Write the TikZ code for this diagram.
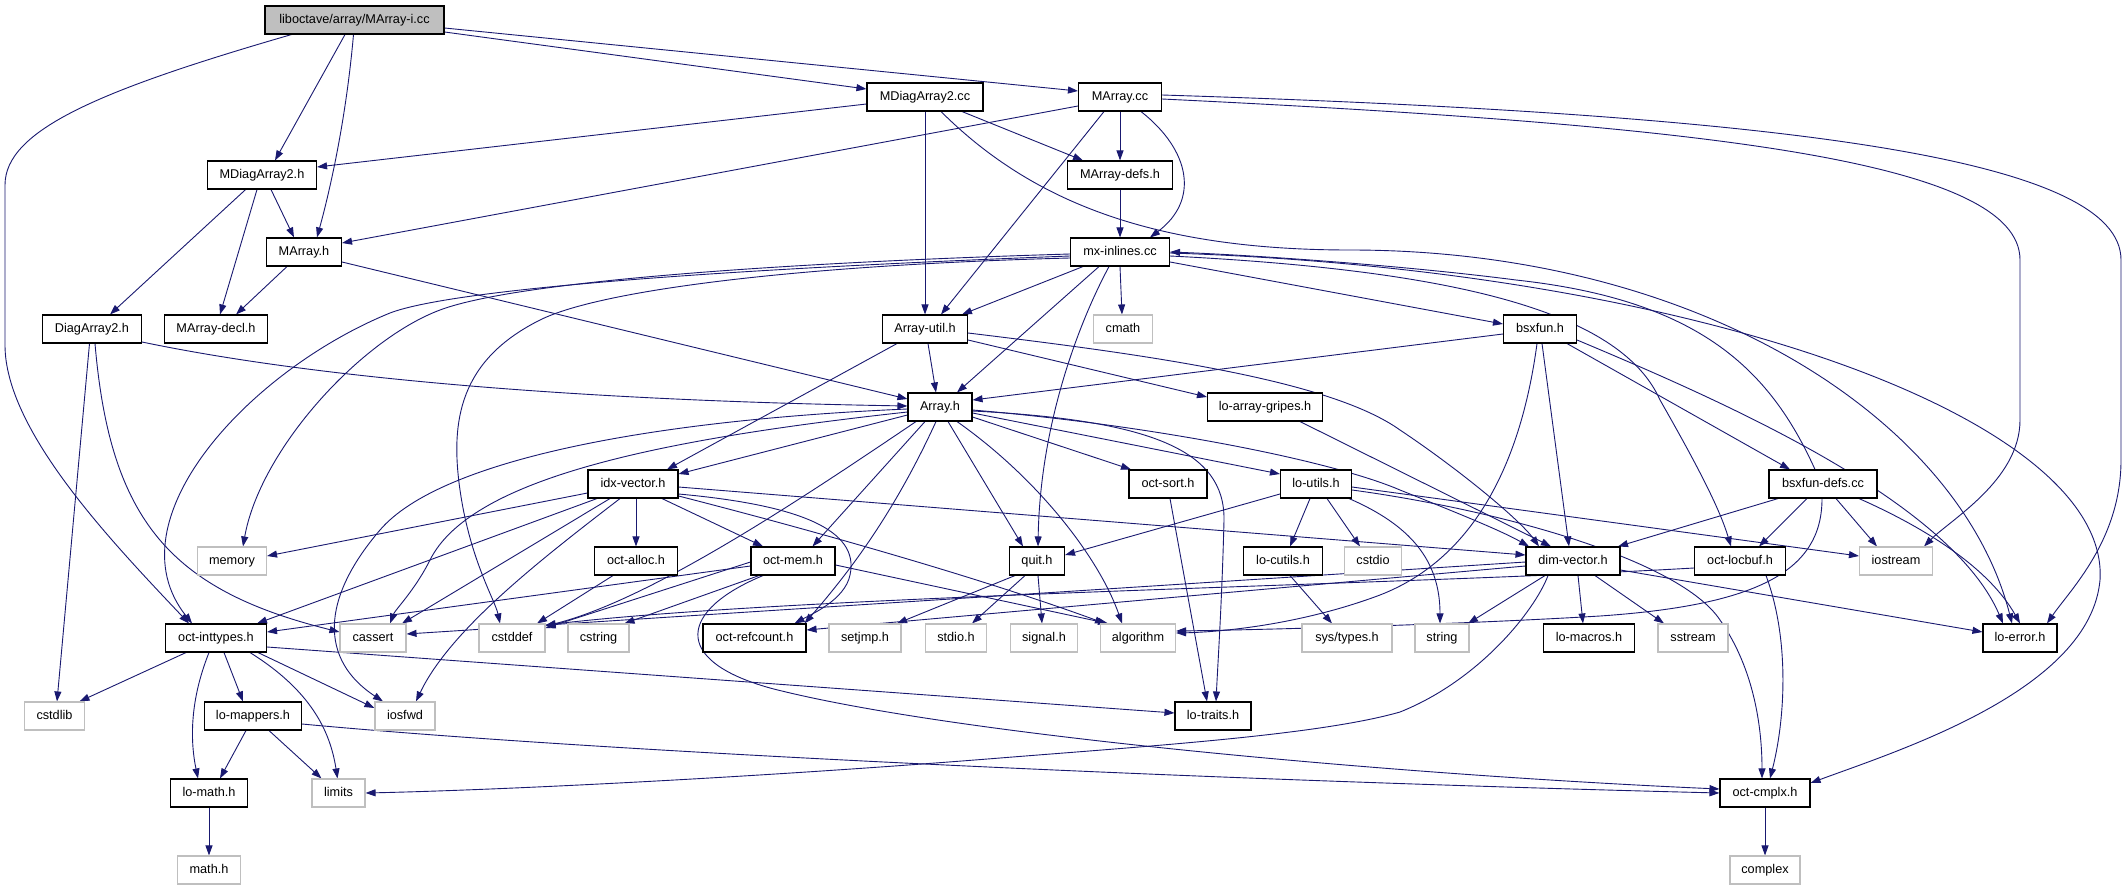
\documentclass[tikz,border=0pt]{standalone}
\usepackage{fontspec}
\setmainfont{Liberation Sans}
\usetikzlibrary{arrows.meta}
\definecolor{edgeblue}{HTML}{191970}
\definecolor{sysgray}{HTML}{BFBFBF}
\pgfdeclarelayer{bg}
\pgfsetlayers{bg,main}
\begin{document}
\begin{tikzpicture}[x=1pt,y=-1pt,
  hdr/.style={draw=black, line width=1.1pt, fill=white, inner sep=0pt, minimum height=28pt,
    text height=9pt, text depth=2.5pt, font=\fontsize{12.7}{14}\selectfont, text=black},
  sys/.style={hdr, draw=sysgray},
  rootnode/.style={hdr, fill=sysgray},
  e/.style={draw=edgeblue, line width=0.9pt, -{Triangle[length=10pt,width=7pt]}}]
\useasboundingbox (0,0) rectangle (2127,891);
% nodes
\node[rootnode, minimum width=179pt] (root) at (354.5,20) {liboctave/array/MArray-i.cc};
\node[hdr, minimum width=109pt] (md2h) at (262,175) {MDiagArray2.h};
\node[hdr, minimum width=75pt] (mah) at (304,252) {MArray.h};
\node[hdr, minimum width=116pt] (md2cc) at (925,97) {MDiagArray2.cc};
\node[hdr, minimum width=83pt] (macc) at (1120,97) {MArray.cc};
\node[hdr, minimum width=105pt] (madefs) at (1120,175) {MArray-defs.h};
\node[hdr, minimum width=99pt] (mxin) at (1120,252) {mx-inlines.cc};
\node[hdr, minimum width=99pt] (da2h) at (92,329) {DiagArray2.h};
\node[hdr, minimum width=103pt] (madecl) at (216,329) {MArray-decl.h};
\node[hdr, minimum width=85pt] (autil) at (925,329) {Array-util.h};
\node[sys, minimum width=59pt] (cmath) at (1123,329) {cmath};
\node[hdr, minimum width=64pt] (arrh) at (940,407) {Array.h};
\node[hdr, minimum width=115pt] (gripes) at (1265,407) {lo-array-gripes.h};
\node[hdr, minimum width=78pt] (octsort) at (1168,484) {oct-sort.h};
\node[hdr, minimum width=71pt] (loutils) at (1316,484) {lo-utils.h};
\node[hdr, minimum width=84pt] (octmem) at (793,561) {oct-mem.h};
\node[hdr, minimum width=55pt] (quit) at (1037,561) {quit.h};
\node[hdr, minimum width=79pt] (locutils) at (1283,561) {lo-cutils.h};
\node[sys, minimum width=57pt] (cstdio) at (1373,561) {cstdio};
\node[hdr, minimum width=73pt] (bsx) at (1540,329) {bsxfun.h};
\node[hdr, minimum width=108pt] (bsxdefs) at (1823,484) {bsxfun-defs.cc};
\node[hdr, minimum width=94pt] (dimv) at (1573,561) {dim-vector.h};
\node[hdr, minimum width=91pt] (locbuf) at (1740,561) {oct-locbuf.h};
\node[sys, minimum width=73pt] (iostream) at (1896,561) {iostream};
\node[hdr, minimum width=90pt] (idxv) at (633,484) {idx-vector.h};
\node[sys, minimum width=69pt] (memory) at (232,561) {memory};
\node[hdr, minimum width=83pt] (octalloc) at (636,561) {oct-alloc.h};
\node[hdr, minimum width=101pt] (inttypes) at (216,638) {oct-inttypes.h};
\node[sys, minimum width=66pt] (cassert) at (373,638) {cassert};
\node[sys, minimum width=66pt] (cstddef) at (512,638) {cstddef};
\node[sys, minimum width=61pt] (cstring) at (598.5,638) {cstring};
\node[hdr, minimum width=103pt] (refcount) at (754.5,638) {oct-refcount.h};
\node[sys, minimum width=72pt] (setjmp) at (865,638) {setjmp.h};
\node[sys, minimum width=61pt] (stdioh) at (956,638) {stdio.h};
\node[sys, minimum width=67pt] (signalh) at (1044,638) {signal.h};
\node[sys, minimum width=75pt] (algorithm) at (1138,638) {algorithm};
\node[sys, minimum width=90pt] (systypes) at (1347,638) {sys/types.h};
\node[sys, minimum width=54pt] (stringh) at (1442,638) {string};
\node[hdr, minimum width=91pt] (lomacros) at (1589,638) {lo-macros.h};
\node[sys, minimum width=70pt] (sstream) at (1693,638) {sstream};
\node[hdr, minimum width=74pt] (loerror) at (2020,638) {lo-error.h};
\node[sys, minimum width=60pt] (cstdlib) at (54.5,716) {cstdlib};
\node[hdr, minimum width=97pt] (lomappers) at (253,716) {lo-mappers.h};
\node[sys, minimum width=60pt] (iosfwd) at (405,716) {iosfwd};
\node[hdr, minimum width=76pt] (lotraits) at (1213,716) {lo-traits.h};
\node[hdr, minimum width=77pt] (lomath) at (209,793) {lo-math.h};
\node[sys, minimum width=53pt] (limits) at (338.5,793) {limits};
\node[hdr, minimum width=90pt] (cmplx) at (1765,793) {oct-cmplx.h};
\node[sys, minimum width=63pt] (mathh) at (209,870) {math.h};
\node[sys, minimum width=70pt] (complex) at (1765,870) {complex};
\begin{pgfonlayer}{bg}
\fill[white] (0,0) rectangle (2127,891);
% root
\draw[e] ([xshift=-9.5pt]root.south) -- ([xshift=13pt]md2h.north);
\draw[e] ([xshift=-1pt]root.south) .. controls (346,120) and (330,190) .. ([xshift=13pt]mah.north);
\draw[e] ([yshift=-12pt]root.east) -- ([yshift=8pt]md2cc.west);
\draw[e] ([yshift=-8pt]root.east) -- ([yshift=6pt]macc.west);
\draw[e] ([xshift=-63pt]root.south) .. controls (100,90) and (5,130) .. (5,185) -- (5,345) .. controls (5,430) and (110,540) .. ([xshift=-27pt]inttypes.north);
% MDiagArray2.h, MArray.h
\draw[e] ([xshift=9pt]md2h.south) -- ([xshift=-10pt]mah.north);
\draw[e] ([xshift=-16.4pt]md2h.south) -- ([xshift=18pt]da2h.north);
\draw[e] ([xshift=-5pt]md2h.south) -- ([xshift=4pt]madecl.north);
\draw[e] ([xshift=-17pt]mah.south) -- ([xshift=20pt]madecl.north);
\draw[e] ([yshift=-10pt]mah.east) -- ([yshift=8pt]arrh.west);
% MDiagArray2.cc
\draw[e] ([yshift=-7pt]md2cc.west) -- ([yshift=8pt]md2h.east);
\draw[e] ([xshift=37pt]md2cc.south) -- ([xshift=-37pt]madefs.north);
\draw[e] (md2cc.south) -- (autil.north);
\draw[e] ([xshift=16pt]md2cc.south) .. controls (1030,200) and (1150,250) .. (1350,250) .. controls (1700,250) and (1960,420) .. ([xshift=-8pt]loerror.north);
% MArray.cc
\draw[e] ([yshift=-9pt]macc.west) -- ([yshift=9pt]mah.east);
\draw[e] (macc.south) -- (madefs.north);
\draw[e] ([xshift=21pt]macc.south) .. controls (1190,150) and (1200,200) .. ([xshift=30pt]mxin.north);
\draw[e] ([xshift=-16pt]macc.south) -- ([xshift=16pt]autil.north);
\draw[e] ([yshift=-2pt]macc.east) .. controls (1700,125) and (2020,160) .. (2020,260) -- (2020,420) .. controls (2020,480) and (1950,520) .. ([xshift=28pt]iostream.north);
\draw[e] ([yshift=2pt]macc.east) .. controls (1800,115) and (2121,160) .. (2121,260) -- (2121,460) .. controls (2121,540) and (2070,590) .. ([xshift=27pt]loerror.north);
\draw[e] (madefs.south) -- (mxin.north);
% DiagArray2.h
\draw[e] ([yshift=-13pt]da2h.east) .. controls (300,375) and (550,400) .. ([yshift=1pt]arrh.west);
\draw[e] ([xshift=-2.5pt]da2h.south) -- ([xshift=2.5pt]cstdlib.north);
\draw[e] ([xshift=3pt]da2h.south) .. controls (110,520) and (170,590) .. ([yshift=6pt]cassert.west);
% mx-inlines.cc
\draw[e] ([xshift=-37pt]mxin.south) -- ([xshift=37pt]autil.north);
\draw[e] ([xshift=-21pt]mxin.south) -- ([xshift=17pt]arrh.north);
\draw[e] (mxin.south) -- ([xshift=-1pt]cmath.north);
\draw[e] ([xshift=-11pt]mxin.south) .. controls (1075,330) and (1040,430) .. ([xshift=1pt]quit.north);
\draw[e] ([yshift=-10pt]mxin.east) -- ([yshift=5pt]bsx.west);
\draw[e] ([yshift=-2pt]mxin.west) .. controls (800,262) and (520,280) .. (440,310) .. controls (360,340) and (260,450) .. ([xshift=11pt]memory.north);
\draw[e] ([yshift=-4pt]mxin.west) .. controls (700,270) and (450,290) .. (390,313) .. controls (250,370) and (110,520) .. ([xshift=-24pt]inttypes.north);
\draw[e] ([yshift=-6pt]mxin.west) .. controls (800,265) and (600,290) .. (540,320) .. controls (460,360) and (450,420) .. (460,490) .. controls (470,560) and (495,600) .. ([xshift=-12pt]cstddef.north);
\draw[e] ([yshift=-4pt]mxin.east) .. controls (1450,270) and (1620,310) .. (1660,400) .. controls (1700,470) and (1720,510) .. ([xshift=-9pt]locbuf.north);
\draw[e] ([yshift=-1pt]mxin.east) .. controls (1700,270) and (2110,420) .. (2100,580) .. controls (2090,690) and (1900,750) .. ([yshift=10pt]cmplx.east);
\draw[e] ([xshift=-8pt]bsxdefs.north) .. controls (1770,370) and (1700,300) .. (1516,280) .. controls (1400,265) and (1250,255) .. (mxin.east);
% bsxfun.h
\draw[e] ([yshift=-5pt]bsx.west) -- ([yshift=7pt]arrh.east);
\draw[e] ([xshift=-3pt]bsx.south) .. controls (1520,470) and (1470,560) .. (1380,595) .. controls (1300,625) and (1220,632) .. ([yshift=5pt]algorithm.east);
\draw[e] ([xshift=2pt]bsx.south) -- ([xshift=-4pt]dimv.north);
\draw[e] ([xshift=27pt]bsx.south) -- ([xshift=-33pt]bsxdefs.north);
\draw[e] ([yshift=-11pt]bsx.east) .. controls (1720,400) and (1950,500) .. ([xshift=-17pt]loerror.north);
% bsxfun-defs.cc
\draw[e] ([xshift=-45pt]bsxdefs.south) -- ([xshift=45pt]dimv.north);
\draw[e] ([xshift=-16pt]bsxdefs.south) -- ([xshift=19pt]locbuf.north);
\draw[e] ([xshift=13pt]bsxdefs.south) -- ([xshift=-19pt]iostream.north);
\draw[e] ([xshift=36pt]bsxdefs.south) .. controls (1930,530) and (1990,570) .. (loerror.north);
\draw[e] ([xshift=-1pt]bsxdefs.south) .. controls (1822,570) and (1760,605) .. (1600,616) .. controls (1450,625) and (1250,630) .. ([yshift=7pt]algorithm.east);
% Array-util.h
\draw[e] ([xshift=3pt]autil.south) -- ([xshift=-4pt]arrh.north);
\draw[e] ([xshift=-28pt]autil.south) -- ([xshift=34pt]idxv.north);
\draw[e] ([yshift=-11pt]autil.east) -- ([yshift=10pt]gripes.west);
\draw[e] ([yshift=-4pt]autil.east) .. controls (1150,355) and (1330,380) .. (1400,430) .. controls (1460,470) and (1520,520) .. ([xshift=-34pt]dimv.north);
\draw[e] ([xshift=35pt]gripes.south) -- ([xshift=-22pt]dimv.north);
% Array.h
\draw[e] ([yshift=-5pt]arrh.west) .. controls (650,440) and (470,480) .. (430,560) .. controls (415,590) and (395,610) .. ([xshift=17pt]cassert.north);
\draw[e] ([yshift=-2pt]arrh.west) .. controls (650,420) and (440,460) .. (380,530) .. controls (320,600) and (320,660) .. ([xshift=-22pt]iosfwd.north);
\draw[e] ([xshift=-24pt]arrh.south) .. controls (800,500) and (650,600) .. ([yshift=12pt]cstddef.east);
\draw[e] ([xshift=17pt]arrh.south) .. controls (1040,480) and (1100,560) .. ([xshift=-16pt]algorithm.north);
\draw[e] ([xshift=8pt]arrh.south) -- ([xshift=-14pt]quit.north);
\draw[e] ([xshift=-15pt]arrh.south) -- ([xshift=19.5pt]octmem.north);
\draw[e] ([xshift=-4pt]arrh.south) .. controls (900,500) and (860,560) .. ([xshift=50pt]refcount.north);
\draw[e] ([yshift=-4pt]arrh.east) .. controls (1150,420) and (1225,450) .. (1224,520) .. controls (1222,600) and (1218,660) .. ([xshift=3pt]lotraits.north);
\draw[e] ([yshift=-10pt]arrh.east) -- ([xshift=-37pt]octsort.north);
\draw[e] ([yshift=-6pt]arrh.east) -- ([yshift=10pt]loutils.west);
\draw[e] ([yshift=-3pt]arrh.east) .. controls (1150,425) and (1330,460) .. (1400,490) .. controls (1450,510) and (1500,530) .. ([xshift=-44pt]dimv.north);
\draw[e] ([yshift=-8pt]arrh.west) -- ([yshift=10pt]idxv.east);
\draw[e] ([xshift=2pt]octsort.south) -- ([xshift=-6pt]lotraits.north);
% idx-vector.h
\draw[e] ([yshift=-9pt]idxv.west) -- ([yshift=5pt]memory.east);
\draw[e] ([xshift=-36pt]idxv.south) -- ([xshift=41pt]inttypes.north);
\draw[e] ([xshift=-23pt]idxv.south) -- ([xshift=29pt]cassert.north);
\draw[e] ([xshift=-13pt]idxv.south) .. controls (540,560) and (450,630) .. ([xshift=11pt]iosfwd.north);
\draw[e] ([xshift=3pt]idxv.south) -- (octalloc.north);
\draw[e] ([xshift=29pt]idxv.south) -- ([xshift=-30pt]octmem.north);
\draw[e] ([yshift=-10pt]idxv.east) .. controls (800,505) and (860,530) .. (850,575) .. controls (845,600) and (810,615) .. ([xshift=40pt]refcount.north);
\draw[e] ([yshift=-12pt]idxv.east) .. controls (850,540) and (1000,585) .. ([xshift=-33pt]algorithm.north);
\draw[e] ([yshift=-3pt]idxv.east) -- ([yshift=6pt]dimv.west);
\draw[e] ([xshift=-23pt]octalloc.south) -- ([xshift=25pt]cstddef.north);
% oct-mem.h
\draw[e] ([yshift=-1pt]octmem.west) -- ([yshift=10pt]cstddef.east);
\draw[e] ([xshift=-34pt]octmem.south) -- ([xshift=26pt]cstring.north);
\draw[e] ([yshift=-4pt]octmem.east) -- ([xshift=-30pt]algorithm.north);
\draw[e] ([xshift=-30pt]octmem.south) .. controls (680,610) and (670,660) .. (770,688) .. controls (950,735) and (1400,775) .. ([yshift=4pt]cmplx.west);
\draw[e] ([yshift=-5pt]octmem.west) -- ([yshift=6pt]inttypes.east);
% quit.h
\draw[e] ([xshift=-22pt]quit.south) -- ([xshift=32pt]setjmp.north);
\draw[e] ([xshift=-12pt]quit.south) -- ([xshift=16pt]stdioh.north);
\draw[e] ([xshift=1pt]quit.south) -- ([xshift=-2pt]signalh.north);
% lo-utils.h
\draw[e] ([yshift=-10pt]loutils.west) -- ([yshift=6pt]quit.east);
\draw[e] ([xshift=-6pt]loutils.south) -- ([xshift=7pt]locutils.north);
\draw[e] ([xshift=11pt]loutils.south) -- ([xshift=-13pt]cstdio.north);
\draw[e] ([xshift=33pt]loutils.south) .. controls (1410,525) and (1440,560) .. ([xshift=-2pt]stringh.north);
\draw[e] ([yshift=-3pt]loutils.east) -- ([yshift=5pt]iostream.west);
\draw[e] ([yshift=-6pt]loutils.east) .. controls (1500,510) and (1680,560) .. (1720,620) .. controls (1755,670) and (1762,730) .. ([xshift=-3pt]cmplx.north);
\draw[e] ([xshift=26pt]locbuf.south) .. controls (1790,640) and (1785,720) .. ([xshift=5pt]cmplx.north);
\draw[e] ([xshift=7pt]locutils.south) -- ([xshift=-15pt]systypes.north);
% dim-vector.h
\draw[e] ([yshift=-1pt]dimv.west) -- ([yshift=4pt]cassert.east);
\draw[e] ([yshift=-5pt]dimv.west) -- ([yshift=8pt]refcount.east);
\draw[e] ([xshift=-28pt]dimv.south) -- ([xshift=26pt]stringh.north);
\draw[e] ([xshift=5pt]dimv.south) -- ([xshift=-6pt]lomacros.north);
\draw[e] ([xshift=22pt]dimv.south) -- ([xshift=-29pt]sstream.north);
\draw[e] ([yshift=-9pt]dimv.east) -- ([yshift=6pt]loerror.west);
\draw[e] ([xshift=-25pt]dimv.south) .. controls (1535,610) and (1480,680) .. (1400,712) .. controls (1320,735) and (1150,746) .. (1000,758) .. controls (750,778) and (500,790) .. (limits.east);
\draw[e] ([yshift=-7pt]locbuf.west) .. controls (1400,585) and (800,595) .. ([yshift=13pt]cstddef.east);
% oct-inttypes.h
\draw[e] ([xshift=-30pt]inttypes.south) -- ([xshift=25pt]cstdlib.north);
\draw[e] ([xshift=-7pt]inttypes.south) .. controls (190,700) and (190,740) .. ([xshift=-11pt]lomath.north);
\draw[e] ([xshift=8pt]inttypes.south) -- ([xshift=-10pt]lomappers.north);
\draw[e] ([xshift=34pt]inttypes.south) .. controls (310,690) and (330,730) .. ([xshift=-1pt]limits.north);
\draw[e] ([xshift=42pt]inttypes.south) -- ([yshift=8pt]iosfwd.west);
\draw[e] ([yshift=-9pt]inttypes.east) -- ([yshift=3pt]lotraits.west);
% lo-mappers.h and below
\draw[e] ([xshift=-7pt]lomappers.south) -- ([xshift=11pt]lomath.north);
\draw[e] ([xshift=16pt]lomappers.south) -- ([xshift=-17pt]limits.north);
\draw[e] ([yshift=-8pt]lomappers.east) .. controls (600,752) and (1200,780) .. (cmplx.west);
\draw[e] (lomath.south) -- (mathh.north);
\draw[e] (cmplx.south) -- (complex.north);
\end{pgfonlayer}
\end{tikzpicture}
\end{document}
